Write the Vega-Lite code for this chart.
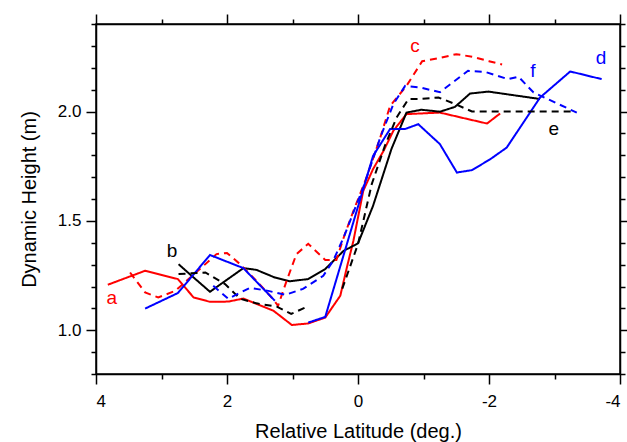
{
  "$schema": "https://vega.github.io/schema/vega-lite/v6.json",
  "width": 524,
  "height": 350,
  "autosize": "none",
  "padding": {"left": 96, "top": 24, "right": 7, "bottom": 68},
  "background": "white",
  "datasets": {
    "lines": [
      {"series":"a","seg":"a","lat":3.82,"h":1.208},{"series":"a","seg":"a","lat":3.25,"h":1.272},{"series":"a","seg":"a","lat":2.75,"h":1.234},{"series":"a","seg":"a","lat":2.51,"h":1.150},{"series":"a","seg":"a","lat":2.26,"h":1.130},{"series":"a","seg":"a","lat":1.98,"h":1.131},{"series":"a","seg":"a","lat":1.75,"h":1.145},{"series":"a","seg":"a","lat":1.29,"h":1.089},{"series":"a","seg":"a","lat":1.01,"h":1.024},{"series":"a","seg":"a","lat":0.76,"h":1.031},{"series":"a","seg":"a","lat":0.50,"h":1.058},{"series":"a","seg":"a","lat":0.27,"h":1.158},{"series":"a","seg":"a","lat":0.17,"h":1.287},{"series":"a","seg":"a","lat":0.07,"h":1.409},{"series":"a","seg":"a","lat":-0.08,"h":1.637},{"series":"a","seg":"a","lat":-0.23,"h":1.737},{"series":"a","seg":"a","lat":-0.39,"h":1.820},{"series":"a","seg":"a","lat":-0.54,"h":1.912},{"series":"a","seg":"a","lat":-0.74,"h":1.988},{"series":"a","seg":"a","lat":-1.25,"h":1.995},{"series":"a","seg":"a","lat":-1.97,"h":1.945},{"series":"a","seg":"a","lat":-2.17,"h":1.991},
      {"series":"b","seg":"b","lat":2.74,"h":1.302},{"series":"b","seg":"b","lat":2.54,"h":1.249},{"series":"b","seg":"b","lat":2.26,"h":1.176},{"series":"b","seg":"b","lat":1.75,"h":1.284},{"series":"b","seg":"b","lat":1.55,"h":1.276},{"series":"b","seg":"b","lat":1.27,"h":1.241},{"series":"b","seg":"b","lat":1.04,"h":1.224},{"series":"b","seg":"b","lat":0.76,"h":1.234},{"series":"b","seg":"b","lat":0.50,"h":1.280},{"series":"b","seg":"b","lat":0.22,"h":1.363},{"series":"b","seg":"b","lat":0.00,"h":1.397},{"series":"b","seg":"b","lat":-0.23,"h":1.569},{"series":"b","seg":"b","lat":-0.51,"h":1.828},{"series":"b","seg":"b","lat":-0.74,"h":1.995},{"series":"b","seg":"b","lat":-0.97,"h":2.008},{"series":"b","seg":"b","lat":-1.25,"h":1.999},{"series":"b","seg":"b","lat":-1.48,"h":2.021},{"series":"b","seg":"b","lat":-1.71,"h":2.082},{"series":"b","seg":"b","lat":-1.99,"h":2.091},{"series":"b","seg":"b","lat":-2.55,"h":2.067},{"series":"b","seg":"b","lat":-2.78,"h":2.057},
      {"series":"c","seg":"c","lat":3.48,"h":1.264},{"series":"c","seg":"c","lat":3.25,"h":1.173},{"series":"c","seg":"c","lat":3.05,"h":1.150},{"series":"c","seg":"c","lat":2.79,"h":1.180},{"series":"c","seg":"c","lat":2.56,"h":1.241},{"series":"c","seg":"c","lat":2.16,"h":1.348},{"series":"c","seg":"c","lat":2.00,"h":1.353},{"series":"c","seg":"c","lat":1.80,"h":1.302},{"series":"c","seg":"c","lat":1.55,"h":1.226},{"series":"c","seg":"c","lat":1.32,"h":1.150},{"series":"c","seg":"c","lat":1.22,"h":1.112},{"series":"c","seg":"c","lat":1.09,"h":1.226},{"series":"c","seg":"c","lat":0.94,"h":1.348},{"series":"c","seg":"c","lat":0.76,"h":1.395},{"series":"c","seg":"c","lat":0.50,"h":1.321},{"series":"c","seg":"c","lat":0.33,"h":1.321},{"series":"c","seg":"c","lat":0.20,"h":1.440},{"series":"c","seg":"c","lat":0.05,"h":1.561},{"series":"c","seg":"c","lat":-0.13,"h":1.698},{"series":"c","seg":"c","lat":-0.34,"h":1.881},{"series":"c","seg":"c","lat":-0.49,"h":2.026},{"series":"c","seg":"c","lat":-0.74,"h":2.117},{"series":"c","seg":"c","lat":-0.98,"h":2.230},{"series":"c","seg":"c","lat":-1.25,"h":2.245},{"series":"c","seg":"c","lat":-1.50,"h":2.262},{"series":"c","seg":"c","lat":-1.75,"h":2.250},{"series":"c","seg":"c","lat":-2.00,"h":2.230},{"series":"c","seg":"c","lat":-2.20,"h":2.215},
      {"series":"d","seg":"d1","lat":3.25,"h":1.099},{"series":"d","seg":"d1","lat":2.75,"h":1.170},{"series":"d","seg":"d1","lat":2.26,"h":1.344},{"series":"d","seg":"d1","lat":1.75,"h":1.284},{"series":"d","seg":"d1","lat":1.27,"h":1.135},
      {"series":"d","seg":"d2","lat":0.76,"h":1.035},{"series":"d","seg":"d2","lat":0.50,"h":1.061},{"series":"d","seg":"d2","lat":-0.23,"h":1.797},{"series":"d","seg":"d2","lat":-0.49,"h":1.920},{"series":"d","seg":"d2","lat":-0.72,"h":1.920},{"series":"d","seg":"d2","lat":-0.92,"h":1.942},{"series":"d","seg":"d2","lat":-1.25,"h":1.851},{"series":"d","seg":"d2","lat":-1.51,"h":1.721},{"series":"d","seg":"d2","lat":-1.74,"h":1.732},{"series":"d","seg":"d2","lat":-2.02,"h":1.782},{"series":"d","seg":"d2","lat":-2.27,"h":1.835},{"series":"d","seg":"d2","lat":-2.78,"h":2.064},{"series":"d","seg":"d2","lat":-3.24,"h":2.183},{"series":"d","seg":"d2","lat":-3.72,"h":2.148},
      {"series":"e","seg":"e1","lat":2.74,"h":1.257},{"series":"e","seg":"e1","lat":2.33,"h":1.264},{"series":"e","seg":"e1","lat":2.03,"h":1.211},{"series":"e","seg":"e1","lat":1.80,"h":1.144},{"series":"e","seg":"e1","lat":1.55,"h":1.123},{"series":"e","seg":"e1","lat":1.24,"h":1.108},{"series":"e","seg":"e1","lat":1.02,"h":1.075},{"series":"e","seg":"e1","lat":0.78,"h":1.107},
      {"series":"e","seg":"e2","lat":0.24,"h":1.190},{"series":"e","seg":"e2","lat":0.00,"h":1.394},{"series":"e","seg":"e2","lat":-0.21,"h":1.668},{"series":"e","seg":"e2","lat":-0.41,"h":1.843},{"series":"e","seg":"e2","lat":-0.59,"h":1.973},{"series":"e","seg":"e2","lat":-0.77,"h":2.057},{"series":"e","seg":"e2","lat":-0.95,"h":2.057},{"series":"e","seg":"e2","lat":-1.23,"h":2.064},{"series":"e","seg":"e2","lat":-1.46,"h":2.037},{"series":"e","seg":"e2","lat":-1.74,"h":2.000},{"series":"e","seg":"e2","lat":-3.31,"h":2.000},
      {"series":"f","seg":"f","lat":2.21,"h":1.203},{"series":"f","seg":"f","lat":1.98,"h":1.144},{"series":"f","seg":"f","lat":1.65,"h":1.194},{"series":"f","seg":"f","lat":1.37,"h":1.180},{"series":"f","seg":"f","lat":1.11,"h":1.162},{"series":"f","seg":"f","lat":0.84,"h":1.189},{"series":"f","seg":"f","lat":0.53,"h":1.249},{"series":"f","seg":"f","lat":0.38,"h":1.317},{"series":"f","seg":"f","lat":0.22,"h":1.424},{"series":"f","seg":"f","lat":-0.08,"h":1.653},{"series":"f","seg":"f","lat":-0.34,"h":1.881},{"series":"f","seg":"f","lat":-0.54,"h":2.034},{"series":"f","seg":"f","lat":-0.72,"h":2.117},{"series":"f","seg":"f","lat":-0.95,"h":2.110},{"series":"f","seg":"f","lat":-1.25,"h":2.088},{"series":"f","seg":"f","lat":-1.68,"h":2.186},{"series":"f","seg":"f","lat":-1.94,"h":2.181},{"series":"f","seg":"f","lat":-2.29,"h":2.148},{"series":"f","seg":"f","lat":-2.45,"h":2.159},{"series":"f","seg":"f","lat":-2.68,"h":2.087},{"series":"f","seg":"f","lat":-3.34,"h":1.995}
    ],
    "labels": [
      {"series":"a","lat":3.76,"h":1.147},
      {"series":"b","lat":2.84,"h":1.363},
      {"series":"c","lat":-0.87,"h":2.30},
      {"series":"d","lat":-3.71,"h":2.245},
      {"series":"e","lat":-2.99,"h":1.921},
      {"series":"f","lat":-2.67,"h":2.186}
    ]
  },
  "data": {"name": "lines"},
  "layer": [
    {
      "layer": [
        {
          "mark": {"type": "line", "strokeWidth": 2},
          "encoding": {
            "x": {"field": "lat", "type": "quantitative",
              "scale": {"domain": [-4, 4], "reverse": true, "nice": false, "zero": false},
              "axis": {"orient": "bottom", "title": "Relative Latitude (deg.)",
                "values": [4,3,2,1,0,-1,-2,-3,-4], "tickCount": 100,
                "labelExpr": "datum.value % 2 === 0 ? '' + datum.value : ''",
                "labelOverlap": false,
                "tickSize": {"condition": {"test": "datum.value % 2 === 0", "value": 10}, "value": 5},
                "labelPadding": 9, "titlePadding": 12}},
            "y": {"field": "h", "type": "quantitative",
              "scale": {"domain": [0.8, 2.4], "nice": false, "zero": false},
              "axis": {"orient": "left", "title": "Dynamic Height (m)",
                "values": [0.8,0.9,1.0,1.1,1.2,1.3,1.4,1.5,1.6,1.7,1.8,1.9,2.0,2.1,2.2,2.3,2.4], "tickCount": 100,
                "labelExpr": "(abs(datum.value - 1) < 0.001 || abs(datum.value - 1.5) < 0.001 || abs(datum.value - 2) < 0.001) ? format(datum.value, '.1f') : ''",
                "labelOverlap": false,
                "tickSize": {"condition": {"test": "abs(datum.value*2 - round(datum.value*2)) < 0.001", "value": 10}, "value": 5},
                "labelPadding": 5, "titlePadding": 18}},
            "color": {"field": "series", "type": "nominal",
              "scale": {"domain": ["a","b","c","d","e","f"], "range": ["#ff0000","#000000","#ff0000","#0000ff","#000000","#0000ff"]},
              "legend": null},
            "strokeDash": {"field": "series", "type": "nominal",
              "scale": {"domain": ["a","b","c","d","e","f"], "range": [[1,0],[1,0],[7,5],[1,0],[7,5],[7,5]]},
              "legend": null},
            "detail": {"field": "seg", "type": "nominal"}
          }
        },
        {
          "data": {"name": "labels"},
          "mark": {"type": "text", "font": "Liberation Sans", "fontSize": 19, "align": "center", "baseline": "middle"},
          "encoding": {
            "x": {"field": "lat", "type": "quantitative"},
            "y": {"field": "h", "type": "quantitative"},
            "text": {"field": "series"},
            "color": {"field": "series", "type": "nominal", "legend": null}
          }
        }
      ]
    },
    {
      "mark": {"type": "point", "opacity": 0},
      "encoding": {
        "x": {"field": "lat", "type": "quantitative",
          "axis": {"orient": "top", "title": null, "labels": false,
            "values": [4,3,2,1,0,-1,-2,-3,-4], "tickCount": 100,
            "tickSize": {"condition": {"test": "datum.value % 2 === 0", "value": 10}, "value": 5}}},
        "y": {"field": "h", "type": "quantitative",
          "axis": {"orient": "right", "title": null, "labels": false,
            "values": [0.8,0.9,1.0,1.1,1.2,1.3,1.4,1.5,1.6,1.7,1.8,1.9,2.0,2.1,2.2,2.3,2.4], "tickCount": 100,
            "tickSize": {"condition": {"test": "abs(datum.value*2 - round(datum.value*2)) < 0.001", "value": 10}, "value": 5}}}
      }
    }
  ],
  "resolve": {"axis": {"x": "independent", "y": "independent"}},
  "config": {
    "view": {"stroke": "#000", "strokeWidth": 1.5},
    "axis": {
      "grid": false,
      "domainColor": "#000", "domainWidth": 1.5,
      "tickColor": "#000", "tickWidth": 1.5,
      "labelColor": "#000", "titleColor": "#000",
      "labelFont": "Liberation Sans", "titleFont": "Liberation Sans",
      "labelFontSize": 17, "titleFontSize": 20, "titleFontWeight": "normal"
    }
  }
}
